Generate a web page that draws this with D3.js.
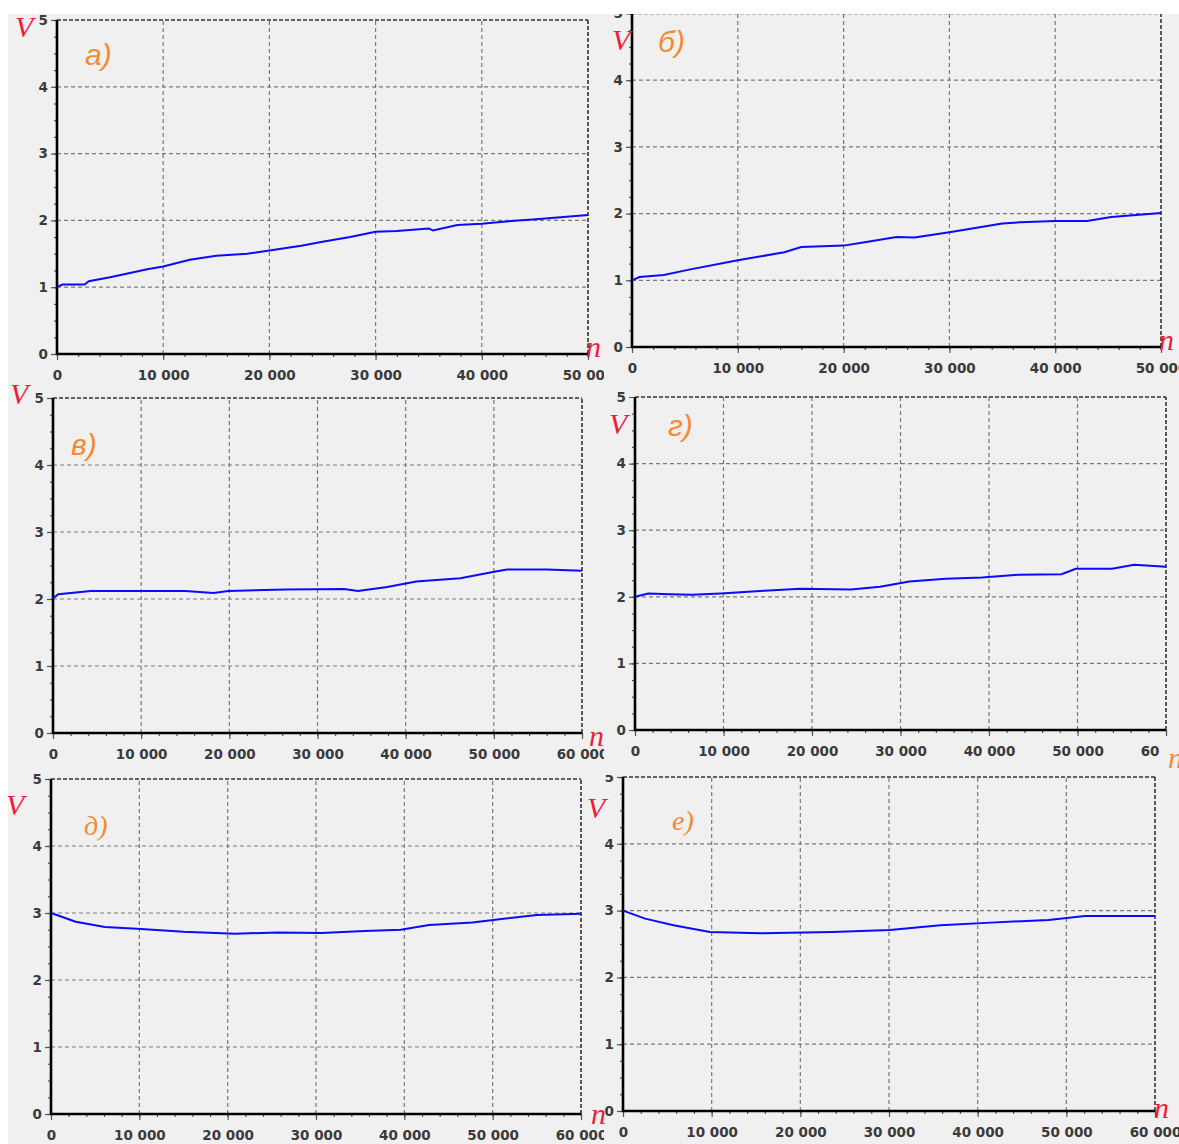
<!DOCTYPE html>
<html>
<head>
<meta charset="utf-8">
<script src="https://cdn.jsdelivr.net/npm/d3@7"></script>
<style>
  body { margin: 0; background: #ffffff; }
</style>
</head>
<body>
<div id="my_dataviz"></div>
<script>
// values (n -> V)
const nA = [0, 500, 2600, 3000, 5000, 8500, 10000, 12500, 15000, 17900, 20000, 23000, 25000, 27600, 30000, 32000, 35000, 35400, 37700, 40000, 42000, 45400, 50000];
const vA = [1.00, 1.04, 1.04, 1.09, 1.15, 1.27, 1.31, 1.41, 1.47, 1.50, 1.55, 1.62, 1.68, 1.75, 1.83, 1.84, 1.88, 1.85, 1.93, 1.95, 1.98, 2.02, 2.08];

const nB = [0, 700, 3000, 5400, 10000, 14400, 16000, 20000, 22000, 25000, 26700, 30000, 35000, 36700, 40000, 43000, 45300, 50000];
const vB = [1.00, 1.05, 1.08, 1.16, 1.30, 1.42, 1.50, 1.52, 1.57, 1.65, 1.64, 1.72, 1.85, 1.87, 1.89, 1.89, 1.95, 2.01];

const nC = [0, 600, 4300, 15000, 18200, 19900, 26400, 33000, 34600, 37900, 41200, 46200, 50200, 51500, 56000, 60000];
const vC = [2.01, 2.07, 2.12, 2.12, 2.09, 2.12, 2.14, 2.15, 2.12, 2.18, 2.26, 2.31, 2.41, 2.44, 2.44, 2.42];

const nD = [0, 1500, 3900, 6400, 9700, 14600, 18700, 24400, 27700, 31000, 35100, 39200, 43300, 48200, 49800, 53900, 56400, 60000];
const vD = [2.00, 2.05, 2.04, 2.03, 2.05, 2.09, 2.12, 2.11, 2.15, 2.23, 2.27, 2.29, 2.33, 2.34, 2.42, 2.42, 2.48, 2.45];

const nE = [0, 2800, 6100, 10200, 15000, 20800, 25700, 30600, 35500, 39600, 42800, 47700, 51000, 55000, 60000];
const vE = [3.00, 2.87, 2.79, 2.76, 2.72, 2.69, 2.71, 2.70, 2.73, 2.75, 2.82, 2.86, 2.91, 2.97, 2.99];

const nF = [0, 2500, 5700, 9800, 15500, 23600, 30100, 35800, 41500, 48000, 52100, 60000];
const vF = [3.00, 2.88, 2.78, 2.68, 2.66, 2.68, 2.71, 2.78, 2.82, 2.86, 2.92, 2.92];

const yTicks = [0, 1, 2, 3, 4, 5];
const xTicks50 = [0, 10000, 20000, 30000, 40000, 50000];
const xTicks60 = [0, 10000, 20000, 30000, 40000, 50000, 60000];
const panelNames = ["а)", "б)", "в)", "г)", "д)", "е)"];

// where each screenshot sits in the collage (clip = one or more rects)
const panels = [
  {n: nA, v: vA, ticks: xTicks50, name: panelNames[0], x0: 57, x1: 588, y0: 354, y1: 20, clip: [[8, 14, 604, 383]],
   vPos: [15, 37], nPos: [586, 357], namePos: [85, 65], serif: false},
  {n: nB, v: vB, ticks: xTicks50, name: panelNames[1], x0: 632, x1: 1161, y0: 347, y1: 13.5, clip: [[604, 14, 1179, 383]],
   vPos: [612, 50], nPos: [1159, 350], namePos: [658, 52], serif: false},
  {n: nC, v: vC, ticks: xTicks60, name: panelNames[2], x0: 53, x1: 582, y0: 733, y1: 398, clip: [[8, 383, 604, 766]],
   vPos: [10, 404], nPos: [589, 746], namePos: [71, 455], serif: false},
  {n: nD, v: vD, ticks: xTicks60, name: panelNames[3], x0: 635, x1: 1166, y0: 730, y1: 397, clip: [[604, 383, 1168, 740], [604, 740, 1161, 766]],
   vPos: [609, 434], nPos: null, namePos: [668, 436], serif: false},
  {n: nE, v: vE, ticks: xTicks60, name: panelNames[4], x0: 51, x1: 581, y0: 1114, y1: 779, clip: [[8, 766, 604, 1144]],
   vPos: [6, 815], nPos: [591, 1124], namePos: [84, 835], serif: true},
  {n: nF, v: vF, ticks: xTicks60, name: panelNames[5], x0: 623, x1: 1155, y0: 1111, y1: 777, clip: [[604, 775, 1179, 1144]],
   vPos: [587, 818], nPos: [1154, 1118], namePos: [672, 830], serif: true}
];

const W = 1179, H = 1144;
const fmt = d3.formatLocale({decimal: ".", thousands: " ", grouping: [3], currency: ["", ""]}).format(",d");

const svg = d3.select("#my_dataviz")
  .append("svg")
  .attr("width", W)
  .attr("height", H)
  .style("display", "block");

svg.append("rect").attr("width", W).attr("height", H).attr("fill", "#f0f0f0");
svg.append("rect").attr("width", W).attr("height", 14).attr("fill", "#ffffff");
svg.append("rect").attr("width", 8).attr("height", H).attr("fill", "#ffffff");

const defs = svg.append("defs");

panels.forEach(function (p, i) { drawPanel(p, i); });

// letters sit on top of everything (they spill over the screenshot edges)
panels.forEach(function (p) {
  svg.append("text")
    .attr("x", p.vPos[0]).attr("y", p.vPos[1])
    .attr("font-family", "Liberation Serif").attr("font-style", "italic")
    .attr("font-size", 30).attr("fill", "#ee1c3a")
    .text("V");
  if (p.nPos) {
    svg.append("text")
      .attr("x", p.nPos[0]).attr("y", p.nPos[1])
      .attr("font-family", "Liberation Serif").attr("font-style", "italic")
      .attr("font-size", 30).attr("fill", "#ee1c3a")
      .text("n");
  }
  svg.append("text")
    .attr("x", p.namePos[0]).attr("y", p.namePos[1])
    .attr("font-family", p.serif ? "Liberation Serif" : "Liberation Sans")
    .attr("font-style", "italic")
    .attr("font-size", p.serif ? 28 : 30)
    .attr("fill", "#f58a2e")
    .text(p.name);
});

// stray bit of the neighbouring screenshot
svg.append("text")
  .attr("x", 1168).attr("y", 768)
  .attr("font-family", "Liberation Serif").attr("font-style", "italic")
  .attr("font-size", 30).attr("fill", "#f08a3c")
  .text("n");

function drawPanel(p, i) {
  const cp = defs.append("clipPath").attr("id", "clip" + i);
  p.clip.forEach(function (c) {
    cp.append("rect")
      .attr("x", c[0]).attr("y", c[1])
      .attr("width", c[2] - c[0]).attr("height", c[3] - c[1]);
  });

  const g = svg.append("g").attr("clip-path", `url(#clip${i})`);
  const c = p.clip[0];
  g.append("rect")
    .attr("x", c[0]).attr("y", c[1])
    .attr("width", c[2] - c[0]).attr("height", H)
    .attr("fill", "#f0f0f0");

  const xmax = p.ticks[p.ticks.length - 1];
  const x = d3.scaleLinear().domain([0, xmax]).range([p.x0, p.x1]);
  const y = d3.scaleLinear().domain([0, 5]).range([p.y0, p.y1]);

  // dashed grid
  g.append("g").selectAll("line")
    .data(yTicks.slice(1, -1))
    .join("line")
    .attr("x1", p.x0).attr("x2", p.x1)
    .attr("y1", d => y(d)).attr("y2", d => y(d))
    .attr("stroke", "#7a7a7a").attr("stroke-width", 1.2)
    .attr("stroke-dasharray", "4,3");
  g.append("g").selectAll("line")
    .data(p.ticks.slice(1, -1))
    .join("line")
    .attr("x1", d => x(d)).attr("x2", d => x(d))
    .attr("y1", p.y0).attr("y2", p.y1)
    .attr("stroke", "#7a7a7a").attr("stroke-width", 1.2)
    .attr("stroke-dasharray", "4,3");

  // top and right frame
  g.append("line")
    .attr("x1", p.x0).attr("x2", p.x1).attr("y1", y(5)).attr("y2", y(5))
    .attr("stroke", "#333").attr("stroke-width", 1.6).attr("stroke-dasharray", "4,2");
  g.append("line")
    .attr("x1", x(xmax)).attr("x2", x(xmax)).attr("y1", p.y0).attr("y2", p.y1)
    .attr("stroke", "#333").attr("stroke-width", 1.6).attr("stroke-dasharray", "4,2");

  // minor ticks
  const yMinor = g.append("g")
    .attr("transform", `translate(${p.x0},0)`)
    .call(d3.axisLeft(y).tickValues(d3.range(0, 5.001, 0.25)).tickSize(3).tickFormat(""));
  const xMinor = g.append("g")
    .attr("transform", `translate(0,${p.y0})`)
    .call(d3.axisBottom(x).tickValues(d3.range(0, xmax + 1, 2000)).tickSize(3).tickFormat(""));

  // major ticks + labels
  const yAxis = g.append("g")
    .attr("transform", `translate(${p.x0},0)`)
    .call(d3.axisLeft(y).tickValues(yTicks).tickSize(6).tickPadding(3).tickFormat(d3.format("d")));
  const xAxis = g.append("g")
    .attr("transform", `translate(0,${p.y0})`)
    .call(d3.axisBottom(x).tickValues(p.ticks).tickSize(6).tickPadding(10).tickFormat(fmt));

  [yMinor, xMinor, yAxis, xAxis].forEach(function (a) {
    a.select(".domain").remove();
    a.selectAll(".tick line").attr("stroke", "#555").attr("stroke-width", 1.2);
  });
  [yAxis, xAxis].forEach(function (a) {
    a.selectAll("text")
      .attr("font-family", "DejaVu Sans")
      .attr("font-size", 13.5)
      .attr("font-weight", "bold")
      .attr("fill", "#3a3a3a");
  });

  // solid axes
  g.append("line")
    .attr("x1", p.x0).attr("x2", p.x0).attr("y1", p.y0 + 1).attr("y2", p.y1)
    .attr("stroke", "#000").attr("stroke-width", 2.6);
  g.append("line")
    .attr("x1", p.x0).attr("x2", p.x1).attr("y1", p.y0).attr("y2", p.y0)
    .attr("stroke", "#000").attr("stroke-width", 2.4);

  // the curve
  const pts = p.n.map((d, k) => [d, p.v[k]]);
  g.append("path")
    .datum(pts)
    .attr("fill", "none")
    .attr("stroke", "#0a0aff")
    .attr("stroke-width", 2)
    .attr("d", d3.line().x(d => x(d[0])).y(d => y(d[1])));
}
</script>
</body>
</html>
